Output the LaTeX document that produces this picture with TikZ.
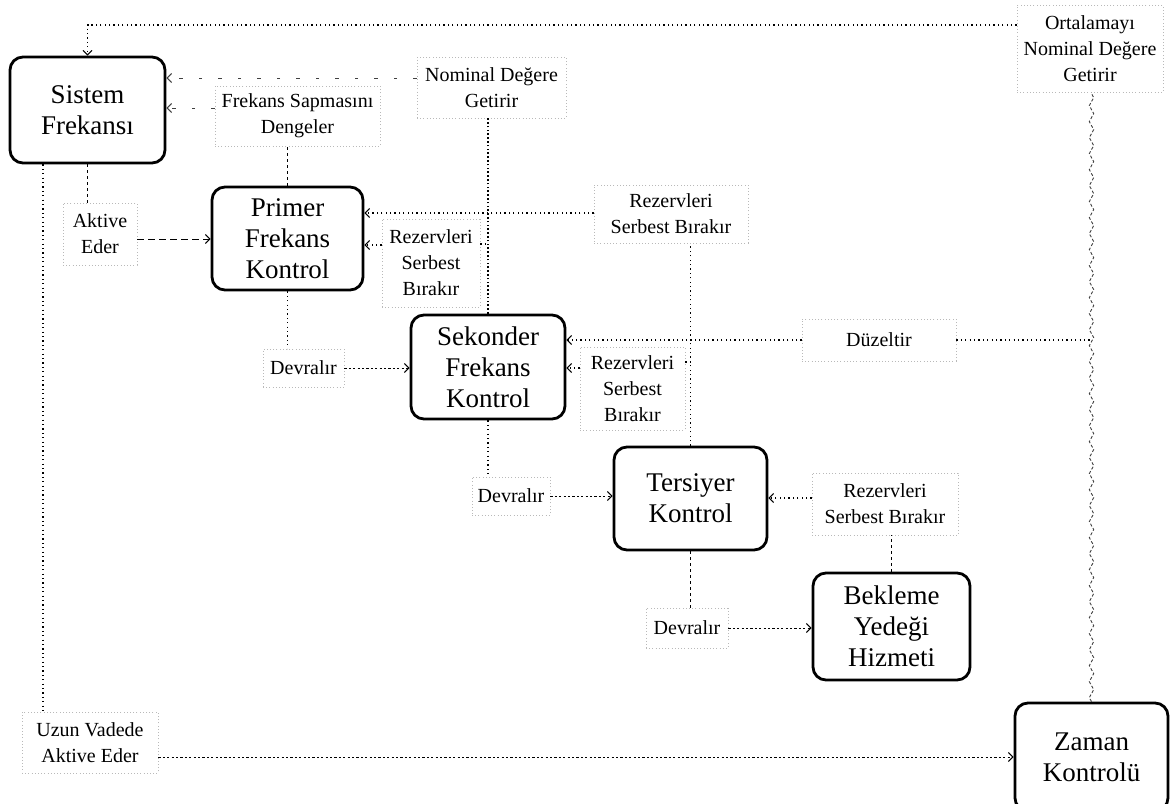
\documentclass[tikz,border=0pt]{standalone}
\usepackage{fontspec}
\setmainfont{Liberation Serif}
\usetikzlibrary{arrows.meta,decorations.pathmorphing}
\begin{document}
\begin{tikzpicture}[x=1pt,y=-1pt,
  mainbox/.style={draw=black, line width=2.8pt, rounded corners=13pt, inner sep=0pt, align=center, fill=white, font=\fontsize{27}{31}\selectfont},
  lbl/.style={draw=gray!55, line width=0.8pt, dash pattern=on 1pt off 2.2pt, inner sep=0pt, align=center, font=\fontsize{20}{26}\selectfont},
  conn/.style={line width=1.1pt, dash pattern=on 1.2pt off 3.2pt},
  fconn/.style={line width=0.9pt, dash pattern=on 2.2pt off 2.2pt},
  dconn/.style={line width=1pt, dash pattern=on 3pt off 3pt},
  lconn/.style={line width=1pt, dash pattern=on 7pt off 4pt},
  sparse/.style={line width=0.9pt, draw=black!75, dash pattern=on 3.5pt off 16pt},
  dense/.style={line width=1.8pt, dash pattern=on 1.6pt off 2.2pt},
  tip/.style={-{Straight Barb[length=4.5pt,width=9pt,line width=1pt]}},
  wavy/.style={draw=black!75, line width=0.9pt, dash pattern=on 3pt off 2pt, decorate, decoration={zigzag, segment length=16pt, amplitude=2.2pt}}
]
\useasboundingbox (0,0) rectangle (1172,803);
\clip (0,0) rectangle (1172,803);

% main boxes
\node[mainbox, minimum width=155pt, minimum height=106pt] (sis) at (87.5,110) {Sistem\\Frekansı};
\node[mainbox, minimum width=151pt, minimum height=103pt] (pri) at (287.5,238.5) {Primer\\Frekans\\Kontrol};
\node[mainbox, minimum width=154pt, minimum height=104pt] (sek) at (488,367) {Sekonder\\Frekans\\Kontrol};
\node[mainbox, minimum width=153pt, minimum height=103pt] (ter) at (690.5,498.5) {Tersiyer\\Kontrol};
\node[mainbox, minimum width=157pt, minimum height=107pt] (bek) at (891.5,626.5) {Bekleme\\Yedeği\\Hizmeti};
\node[mainbox, minimum width=153pt, minimum height=108pt] (zam) at (1091.5,757) {Zaman\\Kontrolü};

% labels
\node[lbl, minimum width=146pt, minimum height=87pt] (ort) at (1090,48.5) {Ortalamayı\\Nominal Değere\\Getirir};
\node[lbl, minimum width=149pt, minimum height=61pt] (nom) at (491.5,87.5) {Nominal Değere\\Getirir};
\node[lbl, minimum width=165pt, minimum height=60pt] (fsd) at (297.5,116) {Frekans Sapmasını\\Dengeler};
\node[lbl, minimum width=74pt, minimum height=62pt] (akt) at (100,234) {Aktive\\Eder};
\node[lbl, minimum width=98pt, minimum height=88pt] (rz1) at (431,263) {Rezervleri\\Serbest\\Bırakır};
\node[lbl, minimum width=154pt, minimum height=58pt] (rz2) at (671,214) {Rezervleri\\Serbest Bırakır};
\node[lbl, minimum width=154pt, minimum height=42pt] (duz) at (879,340) {Düzeltir};
\node[lbl, minimum width=105pt, minimum height=83pt] (rz3) at (632.5,388.5) {Rezervleri\\Serbest\\Bırakır};
\node[lbl, minimum width=146pt, minimum height=62pt] (rz4) at (885,504) {Rezervleri\\Serbest Bırakır};
\node[lbl, minimum width=81pt, minimum height=38pt] (dv1) at (303.5,368) {Devralır};
\node[lbl, minimum width=78pt, minimum height=38pt] (dv2) at (511,496) {Devralır};
\node[lbl, minimum width=82pt, minimum height=40pt] (dv3) at (687,628) {Devralır};
\node[lbl, minimum width=136pt, minimum height=61pt] (uzn) at (90,742.5) {Uzun Vadede\\Aktive Eder};

% connectors
\draw[conn,tip] (ort.west |- 0,25) -| (sis.north);
\draw[wavy] (zam.north) -- (zam.north |- ort.south);
\draw[conn] (duz.east) -- (zam.north |- duz.east);
\draw[conn,tip] (duz.west) -- (sek.east |- duz.west);

\draw[dense] (sek.north) -- (sek.north |- nom.south);
\draw[sparse,tip] (nom.west |- 0,78) -- (sis.east |- 0,78);

\draw[dconn] (pri.north) -- (pri.north |- fsd.south);
\draw[sparse,tip] (fsd.west |- 0,108) -- (sis.east |- 0,108);

\draw[dconn] (sis.south) -- (sis.south |- akt.north);
\draw[lconn,tip] (akt.east |- 0,239) -- (pri.west |- 0,239);

\draw[conn] (rz1.east |- 0,244) -- (sek.north |- 0,244);
\draw[conn,tip] (rz1.west |- 0,245) -- (pri.east |- 0,245);

\draw[conn] (ter.north) -- (ter.north |- rz2.south);
\draw[conn,tip] (rz2.west |- 0,213) -- (pri.east |- 0,213);

\draw[conn] (rz3.east |- 0,362) -- (ter.north |- 0,362);
\draw[conn,tip] (rz3.west |- 0,368) -- (sek.east |- 0,368);

\draw[dconn] (bek.north) -- (bek.north |- rz4.south);
\draw[conn,tip] (rz4.west |- 0,498) -- (ter.east |- 0,498);

\draw[conn] (pri.south) -- (pri.south |- dv1.north);
\draw[fconn,tip] (dv1.east) -- (sek.west |- dv1.east);

\draw[conn] (sek.south) -- (sek.south |- dv2.north);
\draw[fconn,tip] (dv2.east) -- (ter.west |- dv2.east);

\draw[dconn] (ter.south) -- (ter.south |- dv3.north);
\draw[fconn,tip] (dv3.east) -- (bek.west |- dv3.east);

\draw[conn] (sis.south -| 43,0) -- (uzn.north -| 43,0);
\draw[fconn,tip] (uzn.east |- 0,757) -- (zam.west |- 0,757);
\end{tikzpicture}
\end{document}
